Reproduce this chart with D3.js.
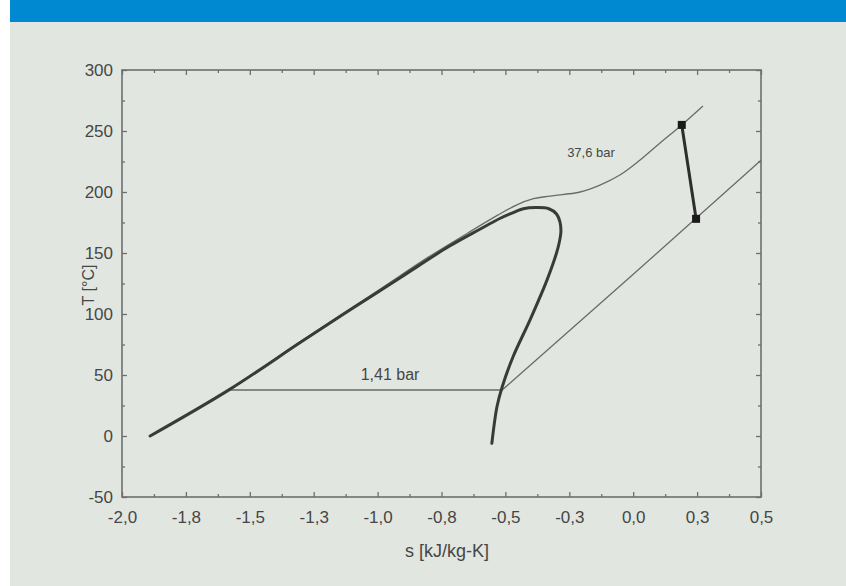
<!DOCTYPE html>
<html>
<head>
<meta charset="utf-8">
<script src="https://cdn.jsdelivr.net/npm/d3@7/dist/d3.min.js"></script>
<style>
  html, body { margin: 0; padding: 0; background: #ffffff; }
  svg { display: block; }
  text { font-family: "Liberation Sans", Arial, Helvetica, sans-serif; }
</style>
</head>
<body>
<svg id="chart" width="846" height="586"></svg>
<script>
// Axis ticks and labels (comma as decimal separator)
const xTickValues = [-2.0, -1.75, -1.5, -1.25, -1.0, -0.75, -0.5, -0.25, 0.0, 0.25, 0.5];
const xTickLabels = ["-2,0", "-1,8", "-1,5", "-1,3", "-1,0", "-0,8", "-0,5", "-0,3", "0,0", "0,3", "0,5"];
const yTickValues = [-50, 0, 50, 100, 150, 200, 250, 300];
const yTickLabels = ["-50", "0", "50", "100", "150", "200", "250", "300"];

// Saturation dome: liquid branch up to the top, then vapour branch down
const domeS = [-1.89, -1.58, -1.30, -1.11, -0.91, -0.72, -0.60, -0.52, -0.46, -0.43, -0.38, -0.33, -0.30, -0.286, -0.283, -0.29, -0.30, -0.337, -0.404, -0.47, -0.513, -0.533, -0.553];
const domeT = [0, 38, 77, 103, 130, 155.5, 169.5, 178.5, 184, 186.3, 187.2, 186.3, 182, 175, 167, 158, 150, 128, 95, 65, 40, 24, -6];

// Isobar 37,6 bar (high pressure)
const isoHighS = [-1.89, -1.58, -1.30, -1.00, -0.80, -0.65, -0.53, -0.455, -0.39, -0.325, -0.208, -0.13, -0.052, 0.027, 0.105, 0.19, 0.273];
const isoHighT = [0, 38.1, 77.6, 119, 146.8, 166, 181, 189.5, 194.5, 196.7, 200, 205.7, 213.9, 226.2, 240.2, 255, 270.5];

// Isobar 1,41 bar (low pressure)
const isoLowS = [-1.58, -0.513, -0.024, 0.5];
const isoLowT = [37.7, 37.7, 128, 226];

// Expansion step between the two isobars
const stateS = [0.19, 0.246];
const stateT = [255, 178];

const svg = d3.select("#chart");
const W = 846, H = 586;

// page background and header band
svg.append("rect").attr("x", 10).attr("y", 0).attr("width", W - 10).attr("height", H).attr("fill", "#e1e7e0");
svg.append("rect").attr("x", 10).attr("y", 0).attr("width", W - 10).attr("height", 22).attr("fill", "#0088d1");

const plotL = 122, plotR = 761, plotT = 70, plotB = 497;
const x = d3.scaleLinear().domain([-2.0, 0.5]).range([plotL, plotR]);
const y = d3.scaleLinear().domain([-50, 300]).range([plotB, plotT]);

const axisColor = "#6e6e6e";
const textColor = "#464646";

const xMinor = d3.range(-2.0, 0.5001, 0.125).filter(v => Math.abs(v * 4 - Math.round(v * 4)) > 1e-6);
const yMinor = d3.range(-50, 300.001, 25).filter(v => v % 50 !== 0);

function styleAxis(g) {
  g.select(".domain").remove();
  g.selectAll(".tick line").attr("stroke", axisColor).attr("stroke-width", 1.3);
  g.selectAll(".tick text").attr("fill", textColor).attr("font-size", 17)
    .attr("font-family", "'Liberation Sans', Arial, Helvetica, sans-serif");
}

// bottom axis with labels
svg.append("g").attr("transform", `translate(0,${plotB})`)
  .call(d3.axisBottom(x).tickValues(xTickValues).tickSize(-5).tickPadding(14)
    .tickFormat((d, i) => xTickLabels[i]))
  .call(styleAxis);
svg.append("g").attr("transform", `translate(0,${plotB})`)
  .call(d3.axisBottom(x).tickValues(xMinor).tickSize(-3).tickFormat(""))
  .call(styleAxis);
// top axis ticks
svg.append("g").attr("transform", `translate(0,${plotT})`)
  .call(d3.axisTop(x).tickValues(xTickValues).tickSize(-5).tickFormat(""))
  .call(styleAxis);
svg.append("g").attr("transform", `translate(0,${plotT})`)
  .call(d3.axisTop(x).tickValues(xMinor).tickSize(-3).tickFormat(""))
  .call(styleAxis);
// left axis with labels
svg.append("g").attr("transform", `translate(${plotL},0)`)
  .call(d3.axisLeft(y).tickValues(yTickValues).tickSize(-5).tickPadding(9)
    .tickFormat((d, i) => yTickLabels[i]))
  .call(styleAxis);
svg.append("g").attr("transform", `translate(${plotL},0)`)
  .call(d3.axisLeft(y).tickValues(yMinor).tickSize(-3).tickFormat(""))
  .call(styleAxis);
// right axis ticks
svg.append("g").attr("transform", `translate(${plotR},0)`)
  .call(d3.axisRight(y).tickValues(yTickValues).tickSize(-5).tickFormat(""))
  .call(styleAxis);
svg.append("g").attr("transform", `translate(${plotR},0)`)
  .call(d3.axisRight(y).tickValues(yMinor).tickSize(-3).tickFormat(""))
  .call(styleAxis);

// plot frame
svg.append("rect").attr("x", plotL).attr("y", plotT)
  .attr("width", plotR - plotL).attr("height", plotB - plotT)
  .attr("fill", "none").attr("stroke", axisColor).attr("stroke-width", 1.6);

// axis titles
svg.append("text").attr("x", 447).attr("y", 557).attr("text-anchor", "middle")
  .attr("fill", textColor).attr("font-size", 18).text("s [kJ/kg-K]");
svg.append("text").attr("transform", "translate(94,285) rotate(-90)").attr("text-anchor", "middle")
  .attr("fill", textColor).attr("font-size", 16).text("T [°C]");

const toPts = (S, T) => S.map((s, i) => [x(s), y(T[i])]);
const smooth = d3.line().curve(d3.curveCatmullRom.alpha(0.5));
const straight = d3.line();

// isobars
svg.append("path").attr("d", smooth(toPts(isoHighS, isoHighT)))
  .attr("fill", "none").attr("stroke", "#6a6a6a").attr("stroke-width", 1.3);
svg.append("path").attr("d", straight(toPts(isoLowS, isoLowT)))
  .attr("fill", "none").attr("stroke", "#6a6a6a").attr("stroke-width", 1.3);

// saturation dome
svg.append("path").attr("d", smooth(toPts(domeS, domeT)))
  .attr("fill", "none").attr("stroke", "#3a3a3a").attr("stroke-width", 3)
  .attr("stroke-linejoin", "round").attr("stroke-linecap", "round");

// expansion line and state points
svg.append("path").attr("d", straight(toPts(stateS, stateT)))
  .attr("fill", "none").attr("stroke", "#2e2e2e").attr("stroke-width", 3);
svg.selectAll("rect.state").data(stateS).enter().append("rect").attr("class", "state")
  .attr("x", (d) => x(d) - 4).attr("y", (d, i) => y(stateT[i]) - 4)
  .attr("width", 8).attr("height", 8).attr("fill", "#1a1a1a");

// isobar labels
svg.append("text").attr("x", 591).attr("y", 157).attr("text-anchor", "middle")
  .attr("fill", textColor).attr("font-size", 13).text("37,6 bar");
svg.append("text").attr("x", 390).attr("y", 380).attr("text-anchor", "middle")
  .attr("fill", textColor).attr("font-size", 16).text("1,41 bar");
</script>
</body>
</html>
